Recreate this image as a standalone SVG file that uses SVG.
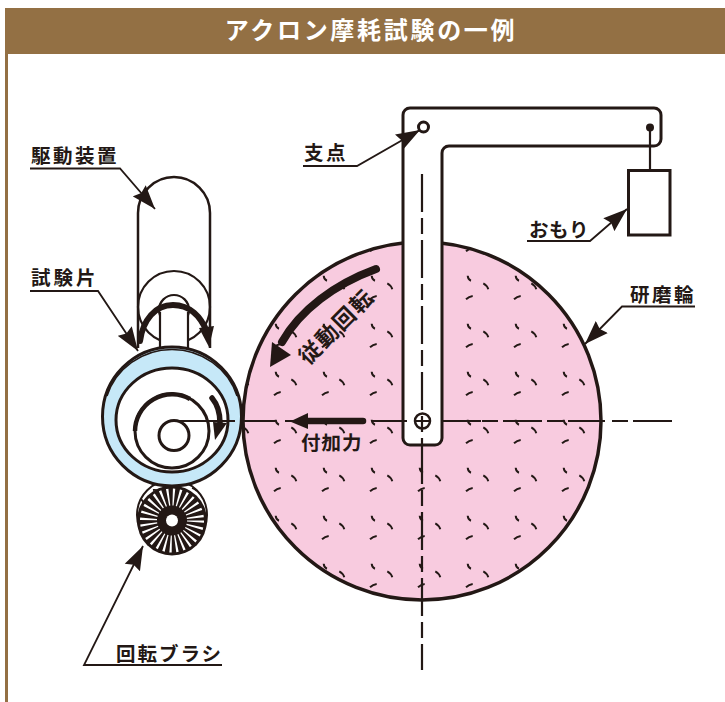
<svg xmlns="http://www.w3.org/2000/svg" width="725" height="702" viewBox="0 0 725 702">
<style>
.l{font-family:"Noto Sans CJK JP","Liberation Sans",sans-serif;font-size:19.500px;font-weight:700;fill:#231815;letter-spacing:2.500px}
.s{fill:none;stroke:#231815;stroke-width:3}
.t{fill:none;stroke:#231815;stroke-width:1.800}
.c{fill:none;stroke:#231815;stroke-width:2.200}
.a{fill:#231815;stroke:none}
</style>
<defs>
<pattern id="tex" patternUnits="userSpaceOnUse" x="457" y="264" width="48" height="48">
<path d="M10.700 11.700q.3 4 3.300 5M26.300 19.300q3.800 2 5 6M9 35.300q3-2.800 6.700-3.300" fill="none" stroke="#231815" stroke-width="2"/>
</pattern>
<marker id="ah" markerUnits="userSpaceOnUse" markerWidth="26" markerHeight="18" refX="24" refY="9" orient="auto"><path d="M0 .5L24 9L0 17.500L3 9Z" fill="#231815"/></marker>
</defs>
<g id="header">
<rect x="5" y="8" width="720" height="46" fill="#937044"/>
<rect x="5" y="54" width="3" height="648" fill="#937044"/>
<text x="371" y="39" text-anchor="middle" font-family="'Noto Sans CJK JP',sans-serif" font-size="24" font-weight="700" letter-spacing="2.700" fill="#fff">アクロン摩耗試験の一例</text>
</g>
<g id="wheel">
<circle cx="422" cy="421" r="179" fill="#f8cbdf"/>
<circle cx="422" cy="421" r="179" fill="url(#tex)"/>
<circle cx="422" cy="421" r="179" fill="none" stroke="#231815" stroke-width="3.500"/>
</g>
<g id="drive">
<path d="M138 348V213a36 36 0 0 1 72 0V348" fill="#fff" stroke="#231815" stroke-width="2.500"/>
<circle cx="174" cy="307" r="36" class="c"/>
<circle cx="174" cy="310" r="15" class="c"/>
<path d="M160 312V350H188V312" fill="#fff" stroke="#231815" stroke-width="2.200"/>
</g>
<g id="brush">
<circle cx="172" cy="515" r="35" fill="#fff" stroke="#231815" stroke-width="2"/>
<path d="M141 499q2 2 3 5M153 490q3-.5 5 1M192 488q3 1 5 3" fill="none" stroke="#231815" stroke-width="1.800"/>
<circle cx="172" cy="520.500" r="35" fill="#231815"/>
<circle cx="172" cy="520.500" r="23.500" fill="none" stroke="#fff" stroke-width="17" stroke-dasharray="1.800 3.473"/>
<circle cx="172" cy="520.500" r="6" fill="#fff"/>
</g>
<g id="specimen">
<circle cx="172" cy="416.500" r="69.500" fill="#c6e8f8" stroke="#231815" stroke-width="3"/>
<path d="M107 396A68 66 0 0 1 237 396" fill="none" stroke="#231815" stroke-width="1.500"/>
<ellipse cx="172" cy="420" rx="56" ry="52" fill="#fff" stroke="#231815" stroke-width="3"/>
<circle cx="172" cy="431" r="37" class="s"/>
<path d="M135 431A37 37 0 0 1 190 399" fill="none" stroke="#231815" stroke-width="4.500"/>
<circle cx="174" cy="435.500" r="15" class="s"/>
</g>
<g id="arm">
<path d="M410 108H654a7 7 0 0 1 7 7V139a7 7 0 0 1-7 7H449a7 7 0 0 0-7 7V438a7 7 0 0 1-7 7H410a7 7 0 0 1-7-7V115a7 7 0 0 1 7-7Z" fill="#fff" stroke="#231815" stroke-width="3"/>
<circle cx="423.500" cy="127" r="5" fill="#fff" stroke="#231815" stroke-width="3"/>
<circle cx="650" cy="127.500" r="4" class="a"/>
<path d="M650 128V170" class="c"/>
</g>
<g id="weight"><rect x="628.500" y="170.500" width="41.500" height="64.500" fill="#fff" stroke="#231815" stroke-width="3"/></g>
<g id="pivot">
<circle cx="422.500" cy="421" r="7.500" fill="#fff" stroke="#231815" stroke-width="2.500"/>
</g>
<g id="connectors">
<path d="M422 174V446M422 446V670" class="c" stroke-dasharray="38 6 16 6"/>
<path d="M173 421H235M241 421H275M285 421H361M372 421H407M415 421H430M442 421H481M482 421H498M503 421H542M547 421H563M568 421H605M612 421H628M633 421H672" class="c"/>
<path d="M30 168.500H120L155 209" class="t" marker-end="url(#ah)"/>
<path d="M30 291H98L138 351" class="t" marker-end="url(#ah)"/>
<path d="M303 166H357L420 130" class="t" marker-end="url(#ah)"/>
<path d="M527 241H590L627 209" class="t" marker-end="url(#ah)"/>
<path d="M695 306.500H622L585 344" class="t" marker-end="url(#ah)"/>
<path d="M222 665H84L143 546" class="t" marker-end="url(#ah)"/>
<path d="M140 341C143 320 155 305 173 305C190 305 201 317 207 332" fill="none" stroke="#231815" stroke-width="6" stroke-linecap="round"/>
<path class="a" d="M209 347L199 328L214 326Z"/>
<path d="M212 398C217 404 220 412 220 423" fill="none" stroke="#231815" stroke-width="5.500" stroke-linecap="round"/>
<path class="a" d="M215 440L213 422L227 423Z"/>
<path d="M376 269C335 284 300 310 282 342" fill="none" stroke="#231815" stroke-width="8" stroke-linecap="round"/>
<path class="a" d="M270 367L272 342L291 355Z"/>
<path d="M363 421H304" fill="none" stroke="#231815" stroke-width="6.500" stroke-linecap="round"/>
<path class="a" d="M290 421.500L308 413V429Z"/>
</g>
<g id="labels">
<text class="l" x="31" y="163">駆動装置</text>
<text class="l" x="31" y="285" style="letter-spacing:3px">試験片</text>
<text class="l" x="304" y="160">支点</text>
<text class="l" x="529" y="237" style="letter-spacing:.5px">おもり</text>
<text class="l" x="630" y="302">研磨輪</text>
<text class="l" x="116" y="661" style="letter-spacing:2px">回転ブラシ</text>
<text class="l" x="301" y="450" style="letter-spacing:1px">付加力</text>
<text class="l" text-anchor="middle" transform="translate(342 332) rotate(-45)" style="font-size:22px;letter-spacing:2px">従動回転</text>
</g>
</svg>
